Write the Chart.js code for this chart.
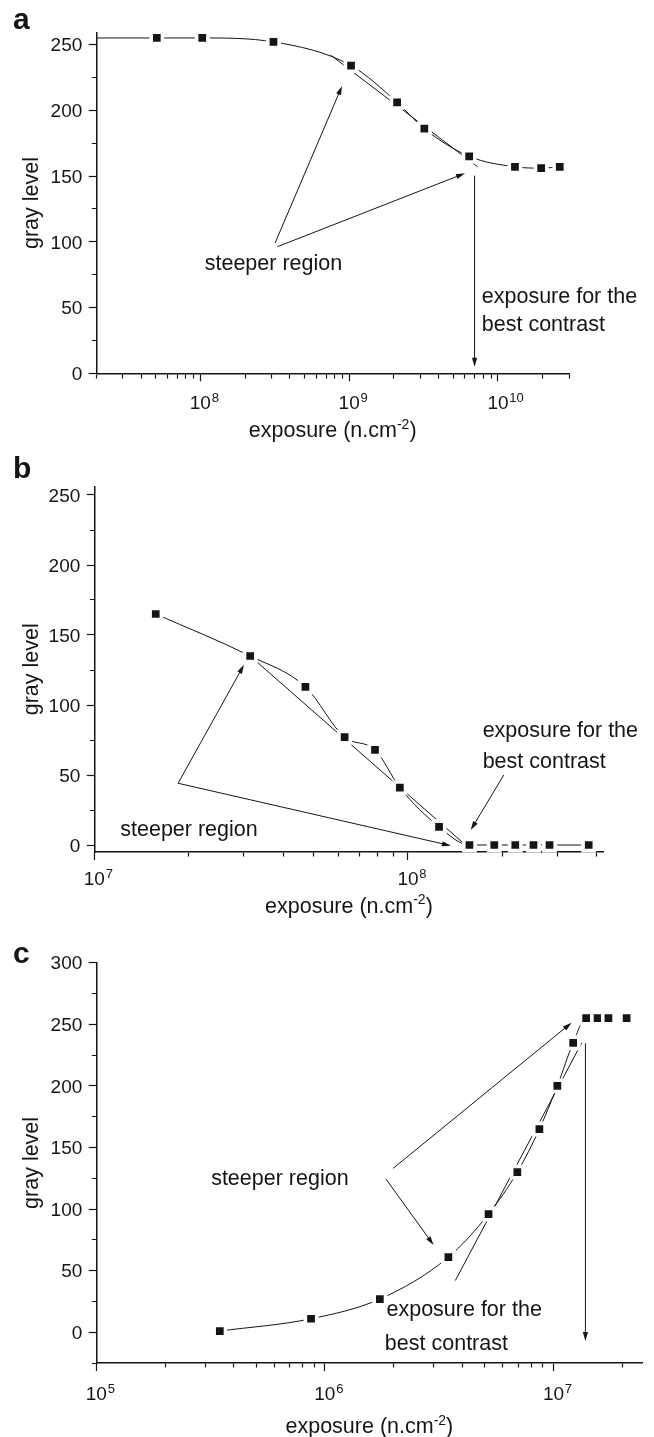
<!DOCTYPE html>
<html>
<head>
<meta charset="utf-8">
<script src="https://cdn.jsdelivr.net/npm/chart.js@4.4.1/dist/chart.umd.min.js"></script>
<style>
  html, body { margin: 0; padding: 0; background: #fff; }
  body { width: 654px; height: 1437px; position: relative; overflow: hidden; }
  canvas { position: absolute; left: 0; }
</style>
</head>
<body>
<canvas id="chartA" width="654" height="448" style="top:0"></canvas>
<canvas id="chartB" width="654" height="478" style="top:448px"></canvas>
<canvas id="chartC" width="654" height="511" style="top:926px"></canvas>
<script>
// ---- panel a ----
const expA = [5.1e7, 1.03e8, 3.1e8, 1.03e9, 2.1e9, 3.2e9, 6.4e9, 1.3e10, 1.95e10, 2.6e10];
const grayA = [255, 255, 252, 234, 206, 186, 165, 157, 156, 157];
const leadA = { x: 2e7, y: 255 }; // fitted curve where it meets the y axis
const tangentExpA = [7.5e8, 7.3e9];
const tangentGrayA = [242, 157];
const xMajorA = [1e8, 1e9, 1e10];
const xPowA = ['8', '9', '10'];
const yLabelsA = [0, 50, 100, 150, 200, 250];

// ---- panel b ----
const expB = [1.57e7, 3.14e7, 4.71e7, 6.28e7, 7.85e7, 9.42e7, 1.256e8, 1.57e8, 1.884e8, 2.198e8, 2.512e8, 2.826e8, 3.768e8];
const grayB = [165, 135, 113, 77, 68, 41, 13, 0, 0, 0, 0, 0, 0];
const tangentExpB = [3.14e7, 1.49e8];
const tangentGrayB = [135, 2];
const xMajorB = [1e7, 1e8];
const xPowB = ['7', '8'];
const yLabelsB = [0, 50, 100, 150, 200, 250];

// ---- panel c ----
const expC = [3.47e5, 8.7e5, 1.74e6, 3.47e6, 5.2e6, 6.95e6, 8.68e6, 1.04e7, 1.22e7, 1.39e7, 1.56e7, 1.74e7, 2.09e7];
const grayC = [1, 11, 27, 61, 96, 130, 165, 200, 235, 255, 255, 255, 255];
const tangentExpC = [3.72e6, 1.33e7];
const tangentGrayC = [42, 235];
const xMajorC = [1e5, 1e6, 1e7];
const xPowC = ['5', '6', '7'];
const yLabelsC = [0, 50, 100, 150, 200, 250, 300];

const FONT = '"Liberation Sans", Arial, Helvetica, sans-serif';
const INK = '#151515';
const TICK_SIZE = 19, TEXT_SIZE = 21.5;

// 1..9 x 10^n ticks inside [min, max]
function logTicks(min, max) {
  const out = [];
  for (let e = Math.floor(Math.log10(min)); e <= Math.ceil(Math.log10(max)); e++) {
    for (let m = 1; m <= 9; m++) {
      const v = m * Math.pow(10, e);
      if (v >= min * 0.999 && v <= max * 1.001) out.push(v);
    }
  }
  return out;
}
function stepTicks(min, max, step) {
  const out = [];
  for (let v = Math.ceil(min / step) * step; v <= max; v += step) out.push(v);
  return out;
}
const isIn = (list, v) => list.some(m => Math.abs(m - v) <= Math.abs(m) * 1e-6 + 1e-9);

// arrows, notes, exponents, x title and the panel letter
const notesPlugin = {
  id: 'notes',
  afterDraw(chart, args, opts) {
    const { ctx, chartArea } = chart;
    const sx = chart.scales.x, sy = chart.scales.y;
    ctx.save();
    ctx.strokeStyle = INK;
    ctx.fillStyle = INK;
    ctx.lineWidth = 1;
    (opts.arrows || []).forEach(a => {
      const x0 = sx.getPixelForValue(a.from[0]), y0 = sy.getPixelForValue(a.from[1]);
      const x1 = sx.getPixelForValue(a.to[0]), y1 = sy.getPixelForValue(a.to[1]);
      const ang = Math.atan2(y1 - y0, x1 - x0);
      const c = Math.cos(ang), s = Math.sin(ang);
      ctx.beginPath();
      ctx.moveTo(x0, y0);
      ctx.lineTo(x1 - 4 * c, y1 - 4 * s);
      ctx.stroke();
      ctx.beginPath();
      ctx.moveTo(x1, y1);
      ctx.lineTo(x1 - 9 * c + 2.6 * s, y1 - 9 * s - 2.6 * c);
      ctx.lineTo(x1 - 9 * c - 2.6 * s, y1 - 9 * s + 2.6 * c);
      ctx.closePath();
      ctx.fill();
    });

    ctx.textBaseline = 'alphabetic';
    ctx.textAlign = 'left';
    ctx.font = TEXT_SIZE + 'px ' + FONT;
    (opts.texts || []).forEach(t => {
      ctx.fillText(t.text, sx.getPixelForValue(t.at[0]), sy.getPixelForValue(t.at[1]));
    });

    // exponents next to the "10" tick labels
    ctx.font = TICK_SIZE + 'px ' + FONT;
    const baseW = ctx.measureText('10').width;
    const tickBase = chartArea.bottom + opts.tickBaseline;
    ctx.font = '13px ' + FONT;
    opts.major.forEach((m, i) => {
      ctx.fillText(opts.pow[i], sx.getPixelForValue(m) + baseW / 2 + 0.8, tickBase - 8.3);
    });

    // x axis title with superscript
    const mid = (chartArea.left + chartArea.right) / 2;
    const tBase = chartArea.bottom + opts.titleBaseline;
    ctx.font = TEXT_SIZE + 'px ' + FONT;
    const w1 = ctx.measureText('exposure (n.cm').width;
    const w3 = ctx.measureText(')').width;
    ctx.font = '14px ' + FONT;
    const w2 = ctx.measureText('-2').width;
    const x0 = mid - (w1 + w2 + w3) / 2;
    ctx.font = TEXT_SIZE + 'px ' + FONT;
    ctx.fillText('exposure (n.cm', x0, tBase);
    ctx.font = '14px ' + FONT;
    ctx.fillText('-2', x0 + w1, tBase - 8.5);
    ctx.font = TEXT_SIZE + 'px ' + FONT;
    ctx.fillText(')', x0 + w1 + w2, tBase);

    if (opts.letter) {
      ctx.font = 'bold 30px ' + FONT;
      ctx.fillText(opts.letter.text, opts.letter.x, opts.letter.y);
    }
    ctx.restore();
  }
};

function makeChart(id, p) {
  const pts = p.exp.map((v, i) => ({ x: v, y: p.gray[i] }));
  const curve = p.lead ? [p.lead].concat(pts) : pts;
  const xTicks = logTicks(p.xMin, p.xMax);
  const yTicks = stepTicks(p.yMin, p.yMax, 25);
  const canvas = document.getElementById(id);
  const H = canvas.height;
  // label middle sits at tickLength + padding + lineHeight/2 below the axis
  const xPad = p.tickBaseline - 8 - TICK_SIZE * 0.6 - TICK_SIZE * 0.35;

  return new Chart(canvas, {
    type: 'line',
    data: {
      datasets: [
        {
          data: pts, showLine: false, pointStyle: 'rect', pointRadius: 8,
          pointBorderWidth: 3.6, pointBackgroundColor: INK, pointBorderColor: '#fff',
          clip: false, order: 0
        },
        {
          data: curve, borderColor: INK, borderWidth: 1, pointRadius: 0,
          cubicInterpolationMode: 'monotone', tension: 0.4, fill: false, order: 1,
          segment: p.hideFrom != null
            ? { borderColor: c => (c.p0DataIndex >= p.hideFrom ? 'rgba(0,0,0,0)' : INK) }
            : {}
        },
        {
          data: p.tanExp.map((v, i) => ({ x: v, y: p.tanGray[i] })),
          borderColor: INK, borderWidth: 1, pointRadius: 0, order: 2
        }
      ]
    },
    options: {
      responsive: false,
      animation: false,
      events: [],
      layout: { padding: { left: 0, right: 654 - p.area.right, top: p.area.top, bottom: 0 } },
      plugins: {
        legend: { display: false },
        tooltip: { enabled: false },
        notes: Object.assign({ major: p.xMajor, pow: p.xPow, tickBaseline: p.tickBaseline, titleBaseline: p.titleBaseline }, p.notes)
      },
      scales: {
        x: {
          type: 'logarithmic',
          min: p.xMin, max: p.xMax, bounds: 'data',
          afterBuildTicks: s => { s.ticks = xTicks.map(v => ({ value: v })); },
          afterFit: s => { s.height = H - p.area.bottom; },
          grid: {
            drawOnChartArea: false, tickLength: 8, tickWidth: 1.2, tickColor: INK,
            tickBorderDash: c => (c.tick && isIn(p.xMajor, c.tick.value) ? [] : [4, 100])
          },
          border: { display: true, color: INK, width: 1.5 },
          ticks: {
            autoSkip: false, maxRotation: 0, color: INK, padding: xPad,
            font: { family: FONT, size: TICK_SIZE },
            callback: v => (isIn(p.xMajor, v) ? '10' : '')
          },
          title: { display: false }
        },
        y: {
          type: 'linear',
          min: p.yMin, max: p.yMax, bounds: 'data',
          afterBuildTicks: s => { s.ticks = yTicks.map(v => ({ value: v })); },
          afterFit: s => { s.width = p.area.left; },
          grid: {
            drawOnChartArea: false, tickLength: 7.5, tickWidth: 1.2, tickColor: INK,
            tickBorderDash: c => (c.tick && isIn(p.yLabels, c.tick.value) ? [] : [0, 3, 10])
          },
          border: { display: true, color: INK, width: 1.5 },
          ticks: {
            autoSkip: false, color: INK, padding: 6.5, labelOffset: 1.5,
            font: { family: FONT, size: TICK_SIZE },
            callback: v => (isIn(p.yLabels, v) ? String(Math.round(v)) : '')
          },
          title: {
            display: true, text: 'gray level', color: INK,
            font: { family: FONT, size: TEXT_SIZE }, padding: { top: 19.5, bottom: 0 }
          }
        }
      }
    },
    plugins: [notesPlugin]
  });
}

makeChart('chartA', {
  exp: expA, gray: grayA, lead: leadA, tanExp: tangentExpA, tanGray: tangentGrayA,
  xMin: 2e7, xMax: 3e10, xMajor: xMajorA, xPow: xPowA,
  yMin: 0, yMax: 259, yLabels: yLabelsA,
  area: { left: 96.3, right: 569, top: 32.7, bottom: 373.3 },
  tickBaseline: 36.7, titleBaseline: 63.7,
  notes: {
    letter: { text: 'a', x: 13, y: 28.5 },
    arrows: [
      { from: [3.18e8, 99.1], to: [8.96e8, 218.5] },
      { from: [3.3e8, 96.3], to: [6.0e9, 152.1] },
      { from: [6.96e9, 150.3], to: [6.96e9, 5] }
    ],
    texts: [
      { text: 'steeper region', at: [1.07e8, 78.6] },
      { text: 'exposure for the', at: [7.78e9, 53.5] },
      { text: 'best contrast', at: [7.78e9, 32.2] }
    ]
  }
});

makeChart('chartB', {
  exp: expB, gray: grayB, tanExp: tangentExpB, tanGray: tangentGrayB,
  xMin: 1e7, xMax: 4.2e8, xMajor: xMajorB, xPow: xPowB,
  yMin: -5, yMax: 256, yLabels: yLabelsB,
  area: { left: 94.3, right: 603.5, top: 38.6, bottom: 404 },
  tickBaseline: 34.7, titleBaseline: 60.7,
  notes: {
    letter: { text: 'b', x: 13, y: 30 },
    arrows: [
      { from: [1.85e7, 44.1], to: [3.0e7, 128.7] },
      { from: [1.85e7, 44.1], to: [1.37e8, -0.5] },
      { from: [2.02e8, 50], to: [1.585e8, 10.7] }
    ],
    texts: [
      { text: 'steeper region', at: [1.21e7, 6.4] },
      { text: 'exposure for the', at: [1.73e8, 77.1] },
      { text: 'best contrast', at: [1.73e8, 55] }
    ]
  }
});

makeChart('chartC', {
  exp: expC, gray: grayC, tanExp: tangentExpC, tanGray: tangentGrayC, hideFrom: 9,
  xMin: 1e5, xMax: 2.45e7, xMajor: xMajorC, xPow: xPowC,
  yMin: -25, yMax: 300, yLabels: yLabelsC,
  area: { left: 96.3, right: 647, top: 36.7, bottom: 437.1 },
  tickBaseline: 38.6, titleBaseline: 69.9,
  notes: {
    letter: { text: 'c', x: 13, y: 36.7 },
    arrows: [
      { from: [1.99e6, 133.1], to: [1.2e7, 251.3] },
      { from: [1.85e6, 124.4], to: [2.99e6, 70.9] },
      { from: [1.38e7, 234.6], to: [1.38e7, -7] }
    ],
    texts: [
      { text: 'steeper region', at: [3.18e5, 119.6] },
      { text: 'exposure for the', at: [1.86e6, 13.2] },
      { text: 'best contrast', at: [1.83e6, -14.4] }
    ]
  }
});
</script>
</body>
</html>
